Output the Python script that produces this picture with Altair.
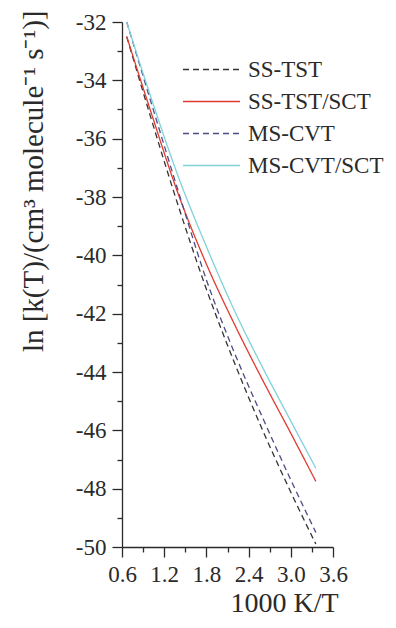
import altair as alt
import pandas as pd

# 1000 K / T grid
x_vals = [0.667, 1.0, 1.4, 1.8, 2.2, 2.6, 3.0, 3.356]

# ln k(T) for each method
ss_tst = [-32.5, -35.2, -38.3, -41.16, -43.69, -46.0, -48.12, -49.9]
ss_tst_sct = [-32.5, -35.0, -37.9, -40.3, -42.37, -44.28, -46.1, -47.75]
ms_cvt = [-32.0, -34.65, -37.8, -40.84, -43.35, -45.57, -47.7, -49.5]
ms_cvt_sct = [-32.0, -34.5, -37.3, -39.7, -41.9, -43.85, -45.68, -47.3]

names = ["SS-TST", "SS-TST/SCT", "MS-CVT", "MS-CVT/SCT"]
colors = ["#333333", "#e23a30", "#4c4c86", "#7fd2d8"]
dashes = [[6, 4], [1, 0], [6, 4], [1, 0]]

series_vals = [ss_tst, ss_tst_sct, ms_cvt, ms_cvt_sct]
rows = []
for name, ys in zip(names, series_vals):
    for i, (xv, yv) in enumerate(zip(x_vals, ys)):
        rows.append({"series": name, "x": xv, "y": yv, "order": i})
df = pd.DataFrame(rows)

FONT = "Liberation Serif"
TXT = "#2a2a2a"

legend = alt.Legend(
    title=None,
    orient="none",
    legendX=78,
    legendY=36,
    symbolType="M-3,0L3,0",
    symbolSize=361,
    symbolStrokeWidth=1.3,
    labelOffset=25,
    labelFont=FONT,
    labelFontSize=23,
    labelColor=TXT,
    rowPadding=8,
    padding=0,
)

chart = (
    alt.Chart(df)
    .mark_line(strokeWidth=1.3, interpolate="monotone")
    .encode(
        x=alt.X(
            "x:Q",
            scale=alt.Scale(domain=[0.6, 3.6], nice=False, zero=False),
            axis=alt.Axis(
                values=[0.6, 0.9, 1.2, 1.5, 1.8, 2.1, 2.4, 2.7, 3.0, 3.3, 3.6],
                labelExpr="round(datum.value*10) % 6 == 0 ? format(datum.value, '.1f') : ''",
                tickSize={"condition": {"test": "round(datum.value*10) % 6 == 0", "value": 10}, "value": 5},
                labelOverlap=False,
                labelFlush=False,
                grid=False,
                domainColor=TXT,
                domainWidth=1.3,
                tickColor=TXT,
                tickWidth=1.3,
                labelFont=FONT,
                labelFontSize=23,
                labelColor=TXT,
                labelPadding=6,
                title="1000 K/T",
                titleFont=FONT,
                titleFontSize=28,
                titleFontWeight="normal",
                titleColor=TXT,
                titleX=162,
                titleY=64,
                titleAlign="center",
                titleBaseline="alphabetic",
            ),
        ),
        y=alt.Y(
            "y:Q",
            scale=alt.Scale(domain=[-50, -32], nice=False, zero=False),
            axis=alt.Axis(
                values=list(range(-50, -31)),
                labelExpr="datum.value % 2 == 0 ? '' + datum.value : ''",
                tickSize={"condition": {"test": "datum.value % 2 == 0", "value": 10}, "value": 5},
                labelOverlap=False,
                labelFlush=False,
                grid=False,
                domainColor=TXT,
                domainWidth=1.3,
                tickColor=TXT,
                tickWidth=1.3,
                labelFont=FONT,
                labelFontSize=23,
                labelColor=TXT,
                labelPadding=6,
                title="ln [k(T)/(cm³ molecule⁻¹ s⁻¹)]",
                titleFont=FONT,
                titleFontSize=29,
                titleFontWeight="normal",
                titleColor=TXT,
                titleAngle=270,
                titleX=-80,
                titleY=-12,
                titleAlign="right",
                titleBaseline="alphabetic",
            ),
        ),
        color=alt.Color("series:N", scale=alt.Scale(domain=names, range=colors), legend=legend),
        strokeDash=alt.StrokeDash("series:N", scale=alt.Scale(domain=names, range=dashes), legend=legend),
        order="order:Q",
    )
    .properties(
        width=211,
        height=525,
        padding={"left": 114, "top": 14, "right": 55, "bottom": 72},
        autosize=alt.AutoSizeParams(type="none"),
    )
    .configure_view(stroke=None)
)

chart.save("out.html", embed_options={"renderer": "svg", "actions": False})
